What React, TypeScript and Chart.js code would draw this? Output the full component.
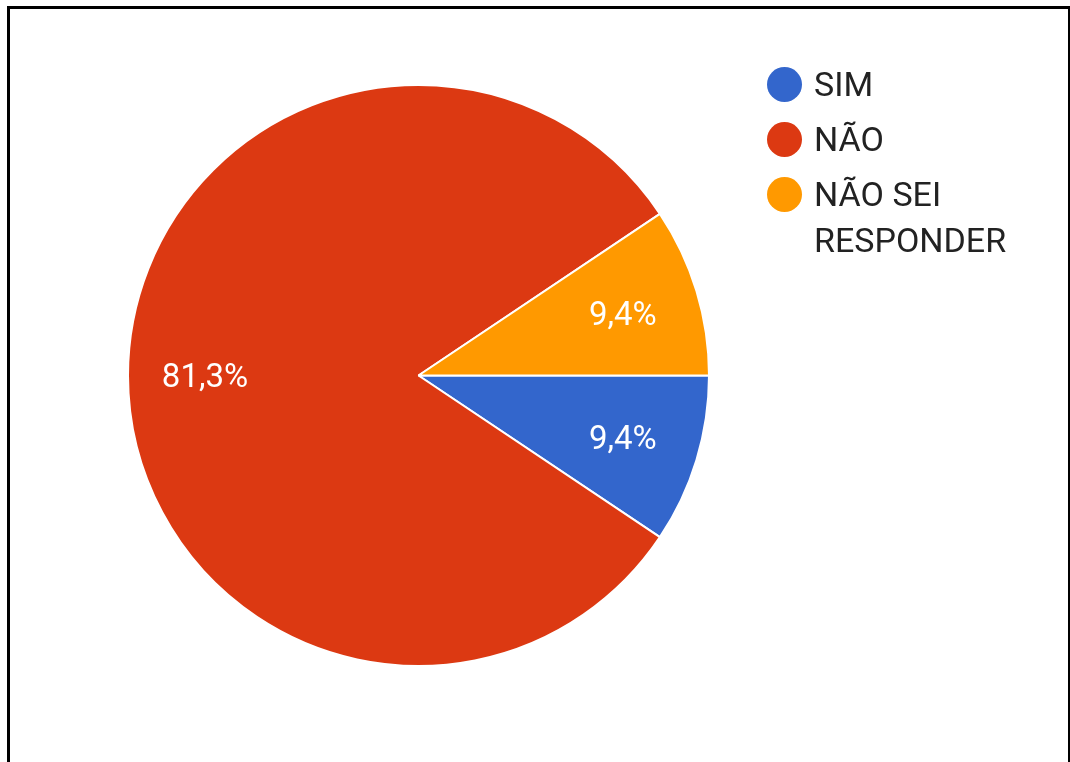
import React, { useEffect, useRef } from "react";
import { Chart, registerables } from "chart.js";

Chart.register(...registerables);

const categories = ["SIM", "NÃO", "NÃO SEI RESPONDER"];
const legendLines = [["SIM"], ["NÃO"], ["NÃO SEI", "RESPONDER"]];
const percentages = [9.4, 81.3, 9.4];
const colors = ["#3366CC", "#DC3912", "#FF9900"];

const FONT = "Roboto, 'Noto Sans', sans-serif";

const labelPlugin = {
  id: "sliceLabels",
  afterDatasetsDraw(chart: any) {
    const ctx = chart.ctx;
    const meta = chart.getDatasetMeta(0);
    ctx.save();
    ctx.fillStyle = "#ffffff";
    ctx.font = `33px ${FONT}`;
    ctx.textAlign = "center";
    ctx.textBaseline = "middle";
    meta.data.forEach((arc: any, i: number) => {
      const mid = (arc.startAngle + arc.endAngle) / 2;
      const r = arc.outerRadius * 0.735;
      const x = arc.x + Math.cos(mid) * r;
      const y = arc.y + Math.sin(mid) * r + 3;
      const txt = percentages[i].toFixed(1).replace(".", ",") + "%";
      ctx.fillText(txt, x, y);
    });
    ctx.restore();
  },
};

export default function App() {
  const ref = useRef<HTMLCanvasElement>(null);
  useEffect(() => {
    if (!ref.current) return;
    const chart = new Chart(ref.current, {
      type: "pie",
      data: {
        labels: categories,
        datasets: [
          {
            data: percentages,
            backgroundColor: colors,
            borderColor: "#ffffff",
            borderWidth: 2,
          },
        ],
      },
      options: {
        animation: false,
        responsive: false,
        rotation: 90,
        layout: { padding: { left: 127, right: 360, top: 84, bottom: 95 } },
        plugins: {
          legend: { display: false },
          tooltip: { enabled: false },
        },
      },
      plugins: [labelPlugin],
    });
    return () => chart.destroy();
  }, []);

  const itemTops = [84, 139, 194];
  return (
    <div
      style={{
        position: "fixed",
        left: 0,
        top: 0,
        width: 1070,
        height: 762,
        overflow: "hidden",
        background: "#ffffff",
        fontFamily: FONT,
      }}
    >
      <div
        style={{
          position: "absolute",
          left: 7,
          top: 6,
          width: 1058,
          height: 800,
          border: "3px solid #000",
        }}
      />
      <canvas
        ref={ref}
        width={1070}
        height={762}
        style={{ position: "absolute", left: 0, top: 0, width: 1070, height: 762 }}
      />
      {legendLines.map((lines, i) => (
        <div key={i}>
          <div
            style={{
              position: "absolute",
              left: 767,
              top: itemTops[i] - 17,
              width: 35,
              height: 35,
              borderRadius: "50%",
              background: colors[i],
            }}
          />
          {lines.map((t, j) => (
            <div
              key={j}
              style={{
                position: "absolute",
                left: 814,
                top: itemTops[i] + j * 46 - 20,
                height: 40,
                lineHeight: "40px",
                fontSize: 34,
                color: "#222",
                whiteSpace: "nowrap",
              }}
            >
              {t}
            </div>
          ))}
        </div>
      ))}
    </div>
  );
}
